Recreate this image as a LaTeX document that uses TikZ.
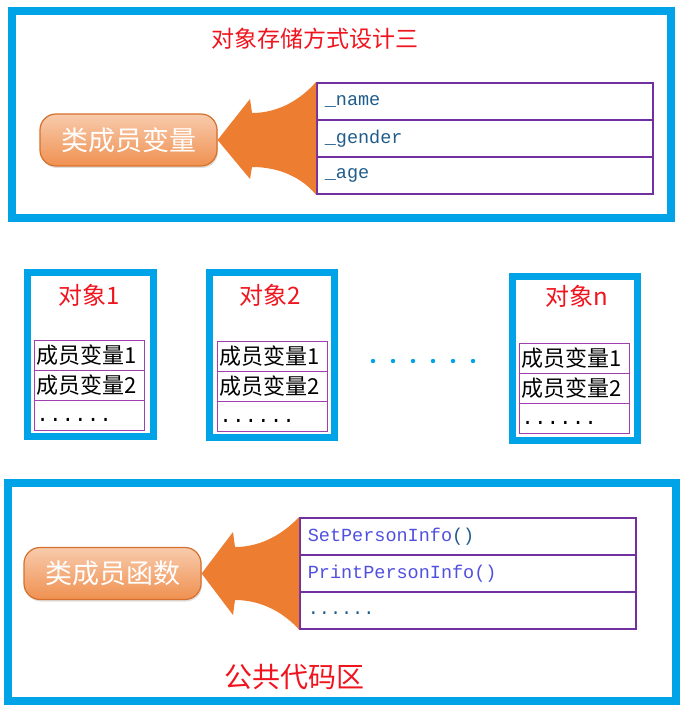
\documentclass[tikz,border=0pt]{standalone}
\usepackage{fontspec}
\setmainfont{Noto Sans CJK SC}
\setmonofont{Liberation Mono}
\usetikzlibrary{shadows}
\definecolor{boxblue}{RGB}{0,162,232}
\definecolor{tabpurple}{RGB}{112,48,160}
\definecolor{cellpurple}{RGB}{160,64,176}
\definecolor{arroworange}{RGB}{237,125,49}
\definecolor{codeblue}{RGB}{31,92,139}
\definecolor{funcblue}{RGB}{80,80,224}
\definecolor{titlered}{RGB}{240,20,30}

\begin{document}
\begin{tikzpicture}[x=1pt,y=-1pt,
	frame_box/.style={draw=boxblue,line width=8pt},
	obj_box/.style={draw=boxblue,line width=7pt},
	tag_node/.style={rounded corners=16pt,draw=arroworange!90!black,line width=1.2pt,top color=arroworange!40,bottom color=arroworange!85,text=white,font=\fontsize{27}{27}\selectfont,minimum width=177pt,minimum height=52pt,drop shadow={opacity=0.25,shadow xshift=1pt,shadow yshift=-2pt}},
	big_cell/.style={draw=tabpurple,line width=1.6pt,minimum width=336pt,minimum height=37pt,text width=320pt,inner xsep=8pt,align=left,font=\ttfamily\fontsize{18.5}{18.5}\selectfont,anchor=north west},
	small_cell/.style={draw=cellpurple,line width=0.8pt,minimum width=110pt,minimum height=30pt,text width=106pt,inner xsep=2pt,inner ysep=0pt,align=left,font=\fontsize{22}{22}\selectfont,anchor=north west},
	dots_cell/.style={small_cell,font=\ttfamily\fontsize{21}{21}\selectfont},
	title_text/.style={text=titlered,font=\fontsize{#1}{#1}\selectfont}]
	\useasboundingbox (0,0) rectangle (682,708);
	
	% top: class member variables
	\draw[frame_box] (12,11) rectangle (671,218);
	\node[title_text=23] (title) at (315,39) {对象存储方式设计三};
	\node[tag_node] (var_tag) at (128.5,140) {类成员变量};
	\node[big_cell] (name) at (316,82) {\textcolor{codeblue}{\_name}};
	\node[big_cell] (gender) at (316,119) {\textcolor{codeblue}{\_gender}};
	\node[big_cell] (age) at (316,156) {\textcolor{codeblue}{\_age}};
	\fill[arroworange] (var_tag.east) -- (250,99) -- (252,113) .. controls (280,113) and (302,98) .. (name.north west)
		-- (age.south west) .. controls (302,178) and (280,167) .. (252,167) -- (250,179) -- cycle;
	
	% objects
	\draw[obj_box] (27.5,272.5) rectangle (153,436.5);
	\node[title_text=24] (obj_one) at (89,295) {对象1};
	\node[small_cell] (one_a) at (34,340) {成员变量1};
	\node[small_cell] (one_b) at (34,370) {成员变量2};
	\node[dots_cell] (one_c) at (34,400) {\strut\raisebox{-2pt}{......}};
	
	\draw[obj_box] (209,272.5) rectangle (334,437.5);
	\node[title_text=24] (obj_two) at (270,295) {对象2};
	\node[small_cell] (two_a) at (217,341) {成员变量1};
	\node[small_cell] (two_b) at (217,371) {成员变量2};
	\node[dots_cell] (two_c) at (217,401) {\strut\raisebox{-2pt}{......}};
	
	\foreach \i in {0,...,5}
		\fill[boxblue] (373+20*\i,361) circle (2.2);
	
	\draw[obj_box] (512,276) rectangle (637,440);
	\node[title_text=24] (obj_n) at (577,296) {对象n};
	\node[small_cell] (n_a) at (519,343) {成员变量1};
	\node[small_cell] (n_b) at (519,373) {成员变量2};
	\node[dots_cell] (n_c) at (519,403) {\strut\raisebox{-2pt}{......}};
	
	% bottom: shared code
	\draw[frame_box] (8,483) rectangle (676,701);
	\node[tag_node] (func_tag) at (112.5,573.5) {类成员函数};
	\node[big_cell] (set_info) at (299,517) {\textcolor{funcblue}{SetPersonInfo}\textcolor{codeblue}{()}};
	\node[big_cell] (print_info) at (299,554) {\textcolor{funcblue}{PrintPersonInfo()}};
	\node[big_cell] (more_info) at (299,591) {\textcolor{codeblue}{\strut......}};
	\fill[arroworange] (func_tag.east) -- (233,532) -- (235,547) .. controls (263,547) and (285,532) .. (set_info.north west)
		-- (more_info.south west) .. controls (285,614) and (263,600) .. (235,600) -- (233,615) -- cycle;
	\node[title_text=28] (code_area) at (294.6,677) {公共代码区};
\end{tikzpicture}
\end{document}
